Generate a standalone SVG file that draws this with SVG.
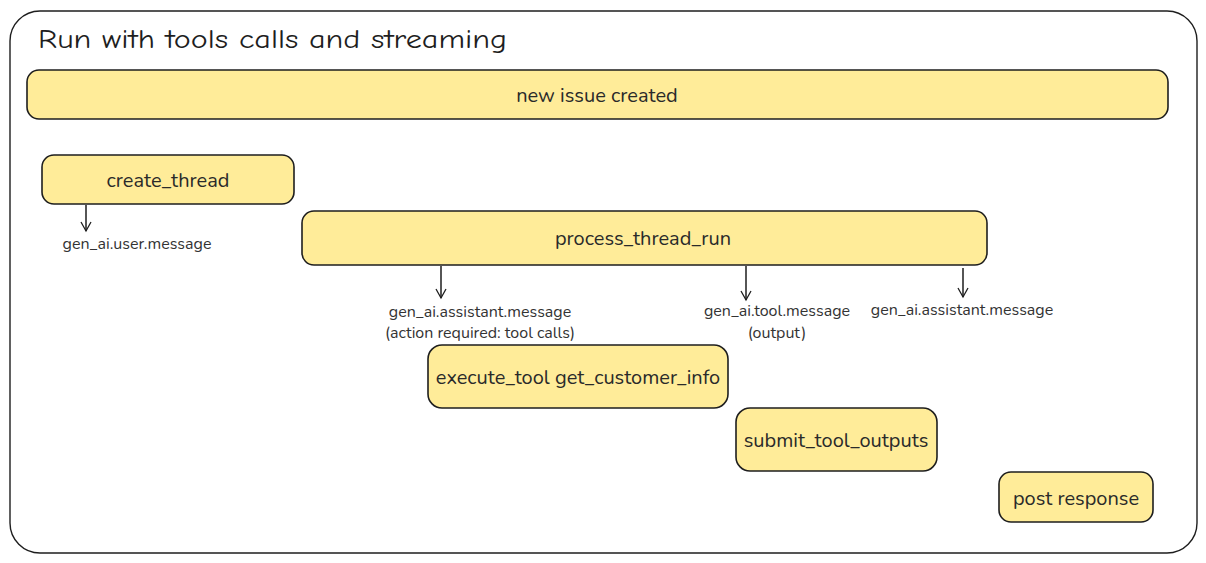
<svg xmlns="http://www.w3.org/2000/svg" width="1206" height="563" viewBox="0 0 1206 563">
<style>
.node rect{fill:#ffec99;stroke:#1e1e1e;stroke-width:1.6}
.lbl{font-family:"Nunito","Noto Sans","Open Sans",sans-serif;font-size:20px;fill:#2a2a2a;text-anchor:middle;dominant-baseline:central}
.sm{font-family:"Nunito","Noto Sans","Open Sans",sans-serif;font-size:16px;fill:#333;text-anchor:middle}
.conn line{stroke:#1e1e1e;stroke-width:1.5;fill:none}
</style>
<defs>
<marker id="ah" viewBox="0 0 12 12" refX="10" refY="6" markerWidth="12" markerHeight="12" markerUnits="userSpaceOnUse" orient="auto">
<path d="M1,1 L10,6 L1,11" fill="none" stroke="#1e1e1e" stroke-width="1.3"/>
</marker>
</defs>
<rect width="1206" height="563" fill="#ffffff"/>
<g id="frame">
<rect x="10" y="11" width="1187" height="542" rx="30" fill="none" stroke="#1e1e1e" stroke-width="1.4"/>
<text x="38" y="48" font-family="'Comic Neue','Liberation Sans',sans-serif" font-size="26" fill="#1e1e1e" textLength="469" lengthAdjust="spacingAndGlyphs">Run with tools calls and streaming</text>
</g>
<g id="new-issue" class="node"><rect x="27" y="70" width="1141" height="49" rx="12"/><text class="lbl" x="597" y="95">new issue created</text></g>
<g id="create-thread" class="node"><rect x="42" y="155" width="252" height="49" rx="12"/><text class="lbl" x="168" y="180">create_thread</text></g>
<g id="process-thread-run" class="node"><rect x="302" y="211" width="685" height="54" rx="12"/><text class="lbl" x="643" y="238">process_thread_run</text></g>
<g id="execute-tool" class="node"><rect x="428" y="345" width="300" height="63" rx="14"/><text class="lbl" x="578" y="377">execute_tool get_customer_info</text></g>
<g id="submit-tool-outputs" class="node"><rect x="736" y="408" width="201" height="63" rx="14"/><text class="lbl" x="836" y="440">submit_tool_outputs</text></g>
<g id="post-response" class="node"><rect x="999" y="472" width="154" height="50" rx="12"/><text class="lbl" x="1076" y="498">post response</text></g>
<g id="connectors" class="conn">
<line x1="86" y1="205" x2="86" y2="231" marker-end="url(#ah)"/>
<line x1="441" y1="266" x2="441" y2="298" marker-end="url(#ah)"/>
<line x1="746" y1="266" x2="746" y2="300" marker-end="url(#ah)"/>
<line x1="963" y1="268" x2="963" y2="297" marker-end="url(#ah)"/>
</g>
<g id="labels">
<text class="sm" x="137" y="249">gen_ai.user.message</text>
<text class="sm" x="480" y="317">gen_ai.assistant.message</text>
<text class="sm" x="480" y="338">(action required: tool calls)</text>
<text class="sm" x="777" y="316">gen_ai.tool.message</text>
<text class="sm" x="777" y="338">(output)</text>
<text class="sm" x="962" y="315">gen_ai.assistant.message</text>
</g>
</svg>
